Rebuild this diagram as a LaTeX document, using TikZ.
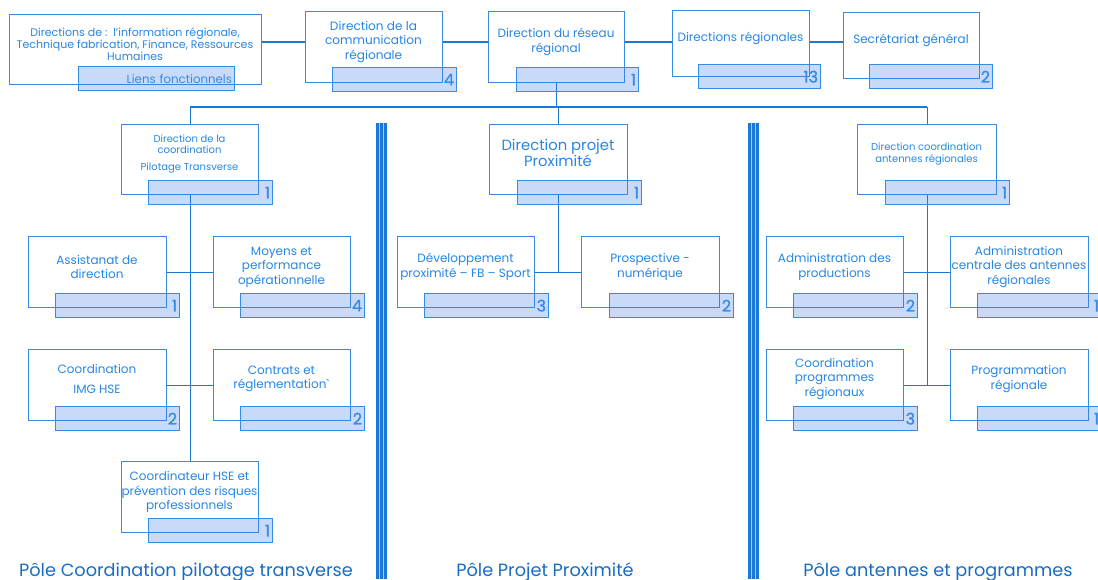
\documentclass[tikz,border=0pt]{standalone}
\usepackage{fontspec}
\setmainfont{Poppins}
\newfontfamily\numfont[FakeBold=1.2]{Poppins}
\definecolor{boxblue}{RGB}{52,140,228}
\definecolor{lineblue}{RGB}{27,120,212}
\definecolor{txtblue}{RGB}{38,134,226}
\definecolor{shade}{RGB}{60,120,230}
\definecolor{gapblue}{RGB}{170,202,242}
\definecolor{poleblue}{RGB}{24,108,196}
\tikzset{
  unit/.style={draw=boxblue, line width=1.1pt, anchor=north west, inner sep=0pt,
    minimum width=137pt, minimum height=71pt},
  count/.style={draw=boxblue, line width=1.1pt, fill=shade, fill opacity=0.28, text opacity=1,
    anchor=north west, minimum width=124pt, minimum height=24pt, text width=119pt,
    inner xsep=2.5pt, inner ysep=0pt, align=right, text=boxblue, font=\numfont\fontsize{16}{16}\selectfont},
  txt/.style={text=txtblue, align=center, inner sep=0pt, font=\fontsize{12}{14.5}\selectfont},
  smalltxt/.style={txt, font=\fontsize{10}{11.5}\selectfont},
  pole/.style={text=poleblue, anchor=base, inner sep=0pt, font=\fontsize{17.7}{18}\selectfont},
  link/.style={draw=lineblue, line width=1.1pt},
  sepline/.style={draw=lineblue, line width=2.2pt}
}

\begin{document}
\begin{tikzpicture}[x=1pt, y=-1pt]
\useasboundingbox (0,0) rectangle (1098,579);
\clip (0,0) rectangle (1098,579);
% Boxes, top row
    \node[unit, minimum width=252pt, minimum height=70pt] (dirs) at (9,14) {};
    \node[unit] (com) at (305,11) {};
    \node[unit, minimum width=136pt] (reseau) at (488,11) {};
    \node[unit, minimum height=66pt] (dreg) at (672,10) {};
    \node[unit, minimum width=136pt, minimum height=66pt] (sg) at (843,12) {};
% Boxes, poles
    \node[unit, minimum height=70pt] (coord) at (121,124) {};
    \node[unit, minimum width=138pt] (assist) at (28,236) {};
    \node[unit] (moyens) at (213,236) {};
    \node[unit, minimum width=138pt] (cimg) at (28,349) {};
    \node[unit] (contrats) at (213,349) {};
    \node[unit] (hse) at (121,461) {};
    \node[unit, minimum width=138pt, minimum height=70pt] (proj) at (489,124) {};
    \node[unit] (dev) at (397,236) {};
    \node[unit, minimum width=138pt] (prosp) at (581,236) {};
    \node[unit, minimum width=139pt, minimum height=70pt] (ant) at (857,124) {};
    \node[unit] (adprod) at (766,236) {};
    \node[unit, minimum width=138pt] (adcent) at (950,236) {};
    \node[unit] (cprog) at (766,349) {};
    \node[unit, minimum width=138pt] (progreg) at (950,349) {};
% Separators
    \fill[gapblue] (376,123) rectangle (387,579);
    \fill[gapblue] (748,123) rectangle (759,579);
    \foreach \x in {377.5,381.5,385.5,749.5,753.5,757.5}
        \draw[sepline] (\x,123) -- (\x,579);
% Links
    \coordinate (row) at (0,42);
    \coordinate (bus) at (0,107);
    \draw[link] (dirs.east |- row) -- (com.west |- row);
    \draw[link] (com.east |- row) -- (reseau.west |- row);
    \draw[link] (reseau.east |- row) -- (dreg.west |- row);
    \draw[link] (dreg.east |- row) -- (sg.west |- row);
    \draw[link] (reseau.south) -- (reseau.south |- bus);
    \draw[link] (coord.north |- bus) -- (ant.north |- bus);
    \draw[link] (coord.north |- bus) -- (coord.north);
    \draw[link] (proj.north |- bus) -- (proj.north);
    \draw[link] (ant.north |- bus) -- (ant.north);
    \draw[link] (coord.south) -- (hse.north);
    \draw[link] (assist.east) -- (moyens.west);
    \draw[link] (cimg.east) -- (contrats.west);
    \draw[link] (proj.south) -- (proj.south |- dev.east);
    \draw[link] (dev.east) -- (prosp.west);
    \draw[link] (ant.south) -- (ant.south |- cprog.east);
    \draw[link] (adprod.east) -- (adcent.west);
    \draw[link] (cprog.east) -- (progreg.west);
% Headcounts
    \node[count, minimum width=156pt, text width=151pt, font=\fontsize{11.8}{13}\selectfont]
        (dirs-n) at ([shift={(69,-19)}]dirs.south west) {Liens fonctionnels};
    \node[count] (com-n) at ([shift={(27,-16)}]com.south west) {4};
    \node[count, minimum width=122pt, text width=117pt] (reseau-n) at ([shift={(28,-16)}]reseau.south west) {1};
    \node[count, minimum width=122pt, text width=117pt] (dreg-n) at ([shift={(26,-13)}]dreg.south west) {13};
    \node[count, minimum width=123pt, text width=118pt] (sg-n) at ([shift={(26,-15)}]sg.south west) {2};
    \node[count] (coord-n) at ([shift={(27,-15)}]coord.south west) {1};
    \node[count] (assist-n) at ([shift={(27,-15)}]assist.south west) {1};
    \node[count] (moyens-n) at ([shift={(27,-15)}]moyens.south west) {4};
    \node[count] (cimg-n) at ([shift={(27,-15)}]cimg.south west) {2};
    \node[count] (contrats-n) at ([shift={(27,-15)}]contrats.south west) {2};
    \node[count] (hse-n) at ([shift={(27,-15)}]hse.south west) {1};
    \node[count] (proj-n) at ([shift={(28,-15)}]proj.south west) {1};
    \node[count] (dev-n) at ([shift={(27,-15)}]dev.south west) {3};
    \node[count] (prosp-n) at ([shift={(28,-15)}]prosp.south west) {2};
    \node[count] (ant-n) at ([shift={(28,-15)}]ant.south west) {1};
    \node[count] (adprod-n) at ([shift={(27,-15)}]adprod.south west) {2};
    \node[count] (adcent-n) at ([shift={(27,-15)}]adcent.south west) {1};
    \node[count] (cprog-n) at ([shift={(27,-15)}]cprog.south west) {3};
    \node[count] (progreg-n) at ([shift={(27,-15)}]progreg.south west) {1};
% Texts
    \node[txt, font=\fontsize{11}{12}\selectfont] (dirs-t) at (135,44)
        {Directions de :\ \ l’information régionale,\\Technique fabrication, Finance, Ressources\\Humaines};
    \node[txt, font=\fontsize{12.1}{14.5}\selectfont] (com-t) at (373.5,42) {Direction de la\\communication\\régionale};
    \node[txt] (reseau-t) at (556,42) {Direction du réseau\\régional};
    \node[txt] (dreg-t) at (740.5,38) {Directions régionales};
    \node[txt] (sg-t) at (911,40) {Secrétariat général};
    \node[smalltxt] (coord-t) at (189.5,154) {Direction de la\\coordination\\[5pt]Pilotage Transverse};
    \node[txt] (assist-t) at (97,267) {Assistanat de\\direction};
    \node[txt] (moyens-t) at (281.5,267) {Moyens et\\performance\\opérationnelle};
    \node[txt] (cimg-t) at (97,379) {Coordination\\[5pt]IMG HSE};
    \node[txt] (contrats-t) at (281.5,379) {Contrats et\\réglementation\textasciigrave};
    \node[txt] (hse-t) at (189.5,492) {Coordinateur HSE et\\prévention des risques\\professionnels};
    \node[txt, font=\fontsize{14.8}{16}\selectfont] (proj-t) at (558,153) {Direction projet\\Proximité};
    \node[txt] (dev-t) at (465.5,267) {Développement\\proximité – FB – Sport};
    \node[txt] (prosp-t) at (650,267) {Prospective -\\numérique};
    \node[smalltxt, font=\fontsize{10}{12}\selectfont] (ant-t) at (926.5,154) {Direction coordination\\antennes régionales};
    \node[txt] (adprod-t) at (834.5,267) {Administration des\\productions};
    \node[txt] (adcent-t) at (1019,267) {Administration\\centrale des antennes\\régionales};
    \node[txt] (cprog-t) at (834.5,379) {Coordination\\programmes\\régionaux};
    \node[txt] (progreg-t) at (1019,379) {Programmation\\régionale};
% Poles
    \node[pole] (pole-coord) at (186,576) {Pôle Coordination pilotage transverse};
    \node[pole] (pole-proj) at (545,576) {Pôle Projet Proximité};
    \node[pole] (pole-ant) at (938,576) {Pôle antennes et programmes};
\end{tikzpicture}
\end{document}
